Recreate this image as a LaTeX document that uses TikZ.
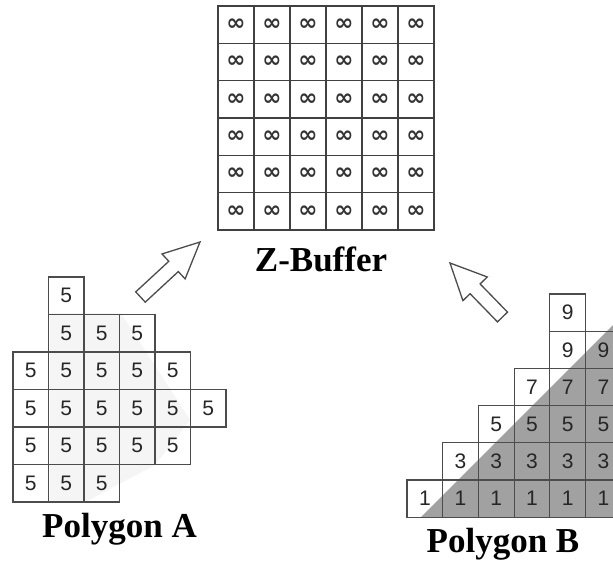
\documentclass[tikz,border=0pt]{standalone}
\usepackage{fontspec}
\setmainfont{Liberation Serif}
\newfontfamily\numfont{Liberation Sans}
\newfontfamily\symfont{DejaVu Sans}
\usetikzlibrary{calc}
\newcommand\blockarrow[2]{%
  \coordinate (ba-b) at ($(#2)!36pt!(#1)$);
  \draw[barrow] ($(#1)!7pt!90:(#2)$) -- ($(ba-b)!7pt!90:(#2)$) -- ($(ba-b)!17pt!90:(#2)$) -- (#2)
     -- ($(ba-b)!17pt!-90:(#2)$) -- ($(ba-b)!7pt!-90:(#2)$) -- ($(#1)!7pt!-90:(#2)$) -- cycle;}
\begin{document}
\begin{tikzpicture}[x=1pt,y=-1pt,
  zcell/.style={draw=black!75, line width=1.1pt, minimum width=36pt, minimum height=37.33pt,
    inner sep=0pt, text=black!80, font=\symfont\bfseries\fontsize{23}{23}\selectfont},
  acell/.style={draw=black!70, line width=1.1pt, minimum width=35.5pt, minimum height=37.5pt,
    inner sep=0pt, text=black!85, font=\numfont\fontsize{21}{21}\selectfont},
  bcell/.style={draw=black!70, line width=1.1pt, minimum width=35.7pt, minimum height=37.2pt,
    inner sep=0pt, text=black!85, font=\numfont\fontsize{21}{21}\selectfont},
  lbl/.style={font=\fontsize{35}{35}\selectfont\bfseries, anchor=base, inner sep=0pt},
  barrow/.style={draw=black!70, line width=1.3pt, fill=white, line join=miter}]
\clip (0,0) rectangle (613,562);
\fill[white] (0,0) rectangle (613,562);
% Z-buffer
\foreach \r in {0,...,5}
  \foreach \c in {0,...,5}
    \node[zcell] (z\r\c) at ({218+36*(\c+0.5)},{6+37.33*(\r+0.5)}) {∞};
% Polygon A shading (very faint)
\fill[black!4] (50,313) -- (121,313) -- (190,420) -- (155,465) -- (85,502) -- (50,502) -- cycle;
% Polygon B shading
\fill[black!37] (421,517.2) -- (620,517.2) -- (620,318) -- cycle;
% Polygon A
\foreach \r/\cs in {0/{1}, 1/{1,2,3}, 2/{0,...,4}, 3/{0,...,5}, 4/{0,...,4}, 5/{0,1,2}}
  \foreach \c in \cs
    \node[acell] (a\r\c) at ({13+35.5*(\c+0.5)},{277+37.5*(\r+0.5)}) {5};
% Polygon B
\foreach \r/\v/\cs in {0/9/{4}, 1/9/{4,5}, 2/7/{3,4,5}, 3/5/{2,...,5}, 4/3/{1,...,5}, 5/1/{0,...,5}}
  \foreach \c in \cs
    \node[bcell] (b\r\c) at ({407+35.7*(\c+0.5)},{294+37.2*(\r+0.5)}) {\v};
% labels
\node[lbl] (zlabel) at (321,271) {Z-Buffer};
\node[lbl] (alabel) at (119.5,537) {Polygon A};
\node[lbl] (blabel) at (503,552) {Polygon B};
% arrows
\coordinate (a1tail) at (140.5,297);
\coordinate (a1tip) at (200,242);
\coordinate (a2tail) at (502.5,317);
\coordinate (a2tip) at (450,263);
\blockarrow{a1tail}{a1tip}
\blockarrow{a2tail}{a2tip}
\end{tikzpicture}
\end{document}
